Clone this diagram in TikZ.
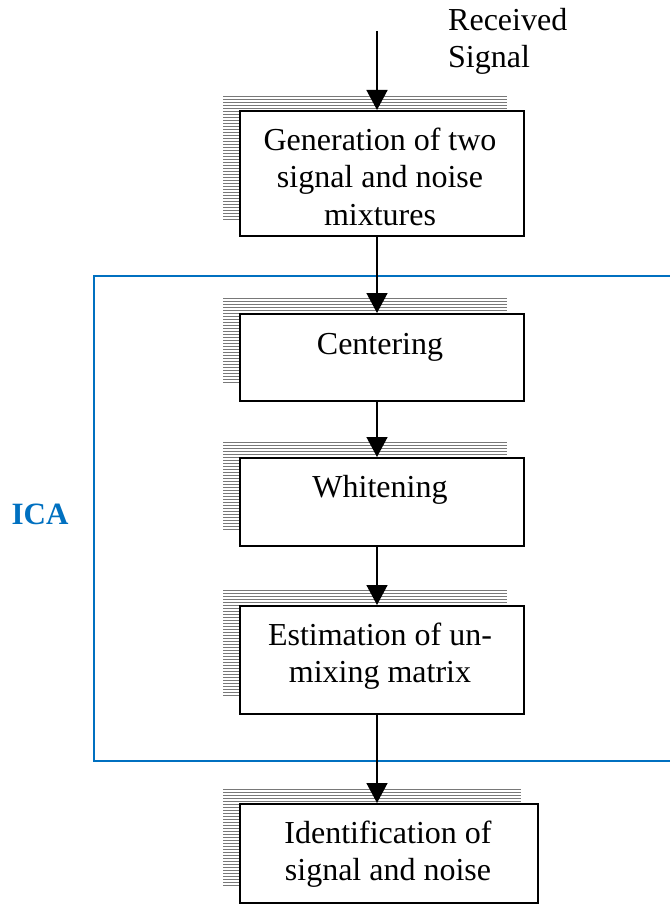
\documentclass[tikz,border=0pt]{standalone}
\usepackage{fontspec}
\setmainfont{Liberation Serif}
\usetikzlibrary{arrows.meta}
\definecolor{icablue}{RGB}{0,112,192}
\definecolor{hatchgray}{RGB}{120,120,120}
\newcommand\txtlines[1]{\begin{tabular}[t]{@{}c@{}}#1\end{tabular}}
\newcommand\txtlinesl[1]{\begin{tabular}[t]{@{}l@{}}#1\end{tabular}}
\newcommand\hatchrect[4]{%
  \pgfmathsetmacro\hA{#2}\pgfmathsetmacro\hB{#2+3}%
  \foreach \yy in {\hA,\hB,...,#4}{\draw[hatchline] (#1,\yy) -- (#3,\yy);}}
\begin{document}
\begin{tikzpicture}[x=1pt,y=-1pt,
  hatchline/.style={draw=hatchgray,line width=0.9pt},
  procbox/.style={draw=black,line width=2pt,fill=white,anchor=north west,inner sep=0pt},
  lbl/.style={font=\fontsize{32}{37}\selectfont,inner sep=0pt},
  arr/.style={draw=black,line width=1.5pt,-{Triangle[width=21pt,length=20pt]}},
  icaframe/.style={draw=icablue,line width=2pt}]
\useasboundingbox (0,0) rectangle (669,904);

% ICA frame
\draw[icaframe] (700,276) -- (94,276) -- (94,761) -- (700,761);
\node[font=\fontsize{31}{36}\selectfont\bfseries,text=icablue,inner sep=0pt,anchor=base] (ica) at (40,524) {ICA};

% shadows
\hatchrect{223}{96}{507}{219}
\hatchrect{223}{298}{507}{384}
\hatchrect{223}{442}{507}{529}
\hatchrect{223}{590}{507}{697}
\hatchrect{223}{789}{521}{886}

% boxes
\node[procbox,minimum width=284pt,minimum height=125pt] (b1) at (239,110) {};
\node[procbox,minimum width=284pt,minimum height=87pt] (b2) at (239,313) {};
\node[procbox,minimum width=284pt,minimum height=88pt] (b3) at (239,457) {};
\node[procbox,minimum width=284pt,minimum height=108pt] (b4) at (239,605) {};
\node[procbox,minimum width=298pt,minimum height=99pt] (b5) at (239,803) {};

% texts
\node[lbl,anchor=base] (t1) at (380,151) {\txtlines{Generation of two\\signal and noise\\mixtures}};
\node[lbl,anchor=base] (t2) at (380,354) {Centering};
\node[lbl,anchor=base] (t3) at (380,497) {Whitening};
\node[lbl,anchor=base] (t4) at (380,645) {\txtlines{Estimation of un-\\mixing matrix}};
\node[lbl,anchor=base] (t5) at (388,843) {\txtlines{Identification of\\signal and noise}};
\node[lbl,anchor=base west] (rs) at (448,31) {\txtlinesl{Received\\Signal}};

% connectors
\coordinate (start) at (377,31);
\draw[arr] (start) -- (b1.north -| start);
\draw[arr] (b1.south -| start) -- (b2.north -| start);
\draw[arr] (b2.south -| start) -- (b3.north -| start);
\draw[arr] (b3.south -| start) -- (b4.north -| start);
\draw[arr] (b4.south -| start) -- (b5.north -| start);
\end{tikzpicture}
\end{document}
